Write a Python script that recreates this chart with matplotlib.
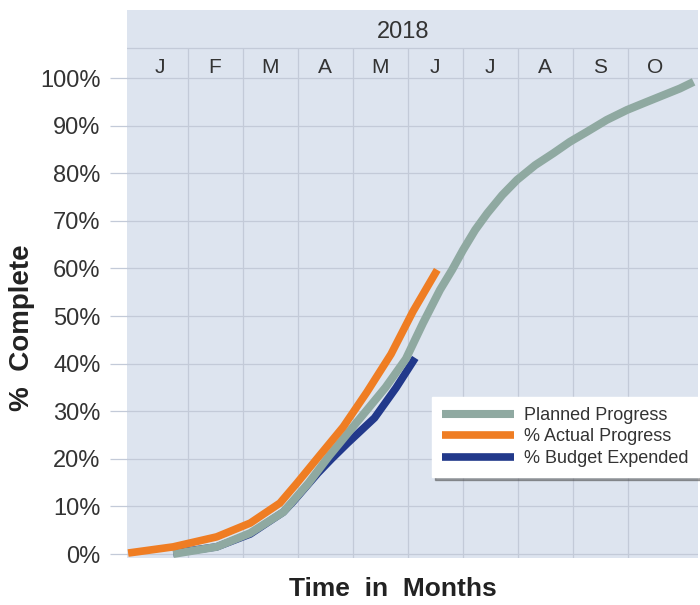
import matplotlib
matplotlib.use('Agg')
import matplotlib.pyplot as plt
from matplotlib import font_manager

# pick a narrow face if there is one
names = {f.name for f in font_manager.fontManager.ttflist}
NARROW = 'Liberation Sans Narrow' if 'Liberation Sans Narrow' in names else 'Liberation Sans'
plt.rcParams['font.family'] = [NARROW, 'DejaVu Sans']

months = ['J', 'F', 'M', 'A', 'M', 'J', 'J', 'A', 'S', 'O']
year_label = '2018'
y_ticks = [0, 10, 20, 30, 40, 50, 60, 70, 80, 90, 100]

# x in months from start of January, y in % complete
planned_x = [0.74, 1.53, 2.14, 2.74, 3.2, 3.56, 4.1, 4.6, 4.97, 5.28, 5.59, 5.81,
             6.01, 6.23, 6.45, 6.72, 6.99, 7.32, 7.65, 7.95, 8.26, 8.62, 8.99, 9.35,
             9.65, 9.95, 10.2]
planned_y = [0, 1.5, 4.4, 8.8, 14.9, 20.4, 28.0, 35.0, 41.0, 48.5, 55.5, 59.7,
             63.9, 68.1, 71.6, 75.4, 78.6, 81.7, 84.2, 86.6, 88.7, 91.2, 93.3, 95.0,
             96.4, 97.8, 99.2]

actual_x = [-0.08, 0.74, 1.53, 2.14, 2.68, 2.99, 3.38, 3.83, 4.26, 4.7, 5.1, 5.54]
actual_y = [0.2, 1.5, 3.6, 6.5, 10.7, 14.9, 20.4, 26.7, 34.0, 42.0, 51.0, 59.7]

budget_x = [0.74, 1.53, 2.14, 2.74, 2.92, 3.37, 3.62, 3.91, 4.4, 4.79, 5.14]
budget_y = [0.2, 1.5, 4.2, 8.8, 11.0, 17.0, 20.0, 23.3, 28.6, 34.9, 41.2]

COLOR_BG = '#dde4ef'
COLOR_GRID = '#c3cad8'
COLOR_PLAN = '#8fa9a1'
COLOR_ACT = '#ef7d23'
COLOR_BUD = '#22398b'
COLOR_TXT = '#333333'

fig = plt.figure(figsize=(7, 6.05), dpi=100)
ax = fig.add_axes([127 / 700, 1 - 558 / 605, 571 / 700, 548 / 605])
ax.set_facecolor(COLOR_BG)
ax.set_xlim(-0.1, 10.28)
ax.set_ylim(-0.84, 114.3)
for s in ax.spines.values():
    s.set_visible(False)

# grid: horizontal full width, vertical month boundaries up to header line
for y in y_ticks:
    ax.axhline(y, color=COLOR_GRID, lw=0.9, zorder=1)
ax.axhline(106.3, color=COLOR_GRID, lw=0.9, zorder=1)
ax.vlines(range(1, len(months)), -0.84, 106.3, color=COLOR_GRID, lw=0.9, zorder=1)

ax.set_xticks([])
ax.set_yticks(y_ticks)
ax.set_yticklabels([f'{v}%' for v in y_ticks], fontsize=17, color=COLOR_TXT)
ax.tick_params(axis='y', length=12, width=0.9, color=COLOR_GRID, pad=7)

# header
for i, m in enumerate(months):
    ax.text(i + 0.5, 102.3, m, ha='center', va='center', fontsize=15, color=COLOR_TXT)
ax.text(4.92, 109.7, year_label, ha='center', va='center', fontsize=17, color=COLOR_TXT)

line_kw = dict(solid_capstyle='butt', solid_joinstyle='round')
ax.plot(budget_x, budget_y, color=COLOR_BUD, lw=5.5, label='% Budget Expended',
        zorder=2, **line_kw)
ax.plot(planned_x, planned_y, color=COLOR_PLAN, lw=5.8, label='Planned Progress',
        zorder=3, **line_kw)
ax.plot(actual_x, actual_y, color=COLOR_ACT, lw=5.5, label='% Actual Progress',
        zorder=5, **line_kw)

h, l = ax.get_legend_handles_labels()
order = [1, 2, 0]
leg = ax.legend([h[i] for i in order], [l[i] for i in order],
                loc='upper left', bbox_to_anchor=((432 - 127) / 571, (558 - 397) / 548),
                fontsize=13, frameon=True, fancybox=False, shadow=True,
                handlelength=4.0, handletextpad=0.55, labelspacing=0.25,
                borderpad=0.55, borderaxespad=0)
leg.get_frame().set_edgecolor('white')
leg.get_frame().set_facecolor('white')
leg.get_frame().set_alpha(1)
for t in leg.get_texts():
    t.set_color(COLOR_TXT)

fig.text(393 / 700, 1 - 589 / 605, 'Time  in  Months', ha='center', va='center',
         fontsize=19, fontweight='bold', color='#222222')
fig.text(22 / 700, 1 - 328 / 605, '%  Complete', ha='center', va='center',
         rotation=90, fontsize=20, fontweight='bold', color='#222222')

fig.savefig('out.png', dpi=100)
